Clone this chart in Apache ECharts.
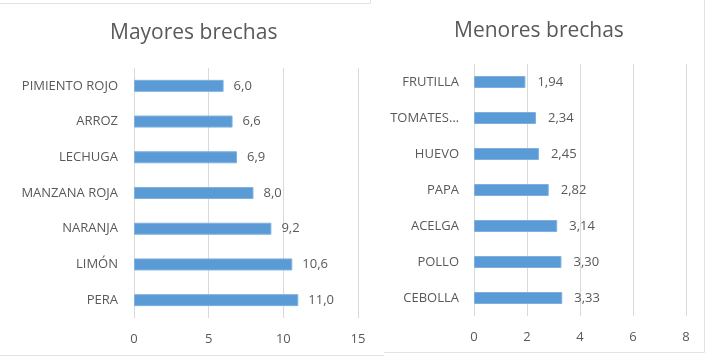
<!DOCTYPE html>
<html><head><meta charset="utf-8">
<script src="https://cdn.jsdelivr.net/npm/echarts@6/dist/echarts.min.js"></script>
<style>html,body{margin:0;padding:0;background:#fff}#c{width:706px;height:360px}</style>
</head><body><div id="c"></div>
<script>
var leftTitle = 'Mayores brechas';
var rightTitle = 'Menores brechas';
var leftCategories = ['PIMIENTO ROJO', 'ARROZ', 'LECHUGA', 'MANZANA ROJA', 'NARANJA', 'LIMÓN', 'PERA'];
var leftValues = [6.0, 6.6, 6.9, 8.0, 9.2, 10.6, 11.0];
var rightCategories = ['FRUTILLA', 'TOMATES…', 'HUEVO', 'PAPA', 'ACELGA', 'POLLO', 'CEBOLLA'];
var rightValues = [1.94, 2.34, 2.45, 2.82, 3.14, 3.30, 3.33];

var FONT = '"Open Sans", "Noto Sans", sans-serif';
var TXT = '#595959';
var chart = echarts.init(document.getElementById('c'));
function fmt(dec){ return function(p){ return p.value.toFixed(dec).replace('.', ','); }; }
chart.setOption({
  animation: false,
  title: [
    {text: leftTitle, left: 105, top: 18, textStyle: {fontFamily: FONT, fontSize: 21, fontWeight: 'normal', color: TXT}},
    {text: rightTitle, left: 449, top: 16, textStyle: {fontFamily: FONT, fontSize: 21, fontWeight: 'normal', color: TXT}}
  ],
  grid: [
    {left: 134, top: 68, width: 224, height: 250},
    {left: 474, top: 64, width: 212, height: 252}
  ],
  xAxis: [
    {gridIndex: 0, type: 'value', min: 0, max: 15, interval: 5,
     axisLine: {show: false}, axisTick: {show: false},
     splitLine: {lineStyle: {color: '#d9d9d9'}},
     axisLabel: {margin: 15, fontFamily: FONT, fontSize: 13, color: TXT}},
    {gridIndex: 1, type: 'value', min: 0, max: 8, interval: 2,
     axisLine: {show: false}, axisTick: {show: false},
     splitLine: {lineStyle: {color: '#d9d9d9'}},
     axisLabel: {margin: 15, fontFamily: FONT, fontSize: 13, color: TXT}}
  ],
  yAxis: [
    {gridIndex: 0, type: 'category', data: leftCategories, inverse: true,
     axisLine: {show: false}, axisTick: {show: false},
     axisLabel: {margin: 16, fontFamily: FONT, fontSize: 13, color: TXT}},
    {gridIndex: 1, type: 'category', data: rightCategories, inverse: true,
     axisLine: {show: false}, axisTick: {show: false},
     axisLabel: {margin: 15, fontFamily: FONT, fontSize: 13, color: TXT}}
  ],
  series: [
    {type: 'bar', xAxisIndex: 0, yAxisIndex: 0, data: leftValues, barWidth: 12,
     itemStyle: {color: '#5B9BD5', borderColor: '#7fb0e0', borderWidth: 1},
     label: {show: true, position: 'right', distance: 10, formatter: fmt(1), fontFamily: FONT, fontSize: 13, color: TXT}},
    {type: 'bar', xAxisIndex: 1, yAxisIndex: 1, data: rightValues, barWidth: 12,
     itemStyle: {color: '#5B9BD5', borderColor: '#7fb0e0', borderWidth: 1},
     label: {show: true, position: 'right', distance: 12, formatter: fmt(2), fontFamily: FONT, fontSize: 13, color: TXT}}
  ],
  graphic: [
    {type: 'polyline', shape: {points: [[0, 3.5], [370.5, 3.5], [370.5, 0]]}, style: {stroke: '#e3e3e3', lineWidth: 1, fill: null}},
    {type: 'polyline', shape: {points: [[0, 355.5], [384, 355.5]]}, style: {stroke: '#e3e3e3', lineWidth: 1, fill: null}},
    {type: 'polyline', shape: {points: [[384, 352.5], [704.5, 352.5], [704.5, 0]]}, style: {stroke: '#e3e3e3', lineWidth: 1, fill: null}}
  ]
});
</script></body></html>
